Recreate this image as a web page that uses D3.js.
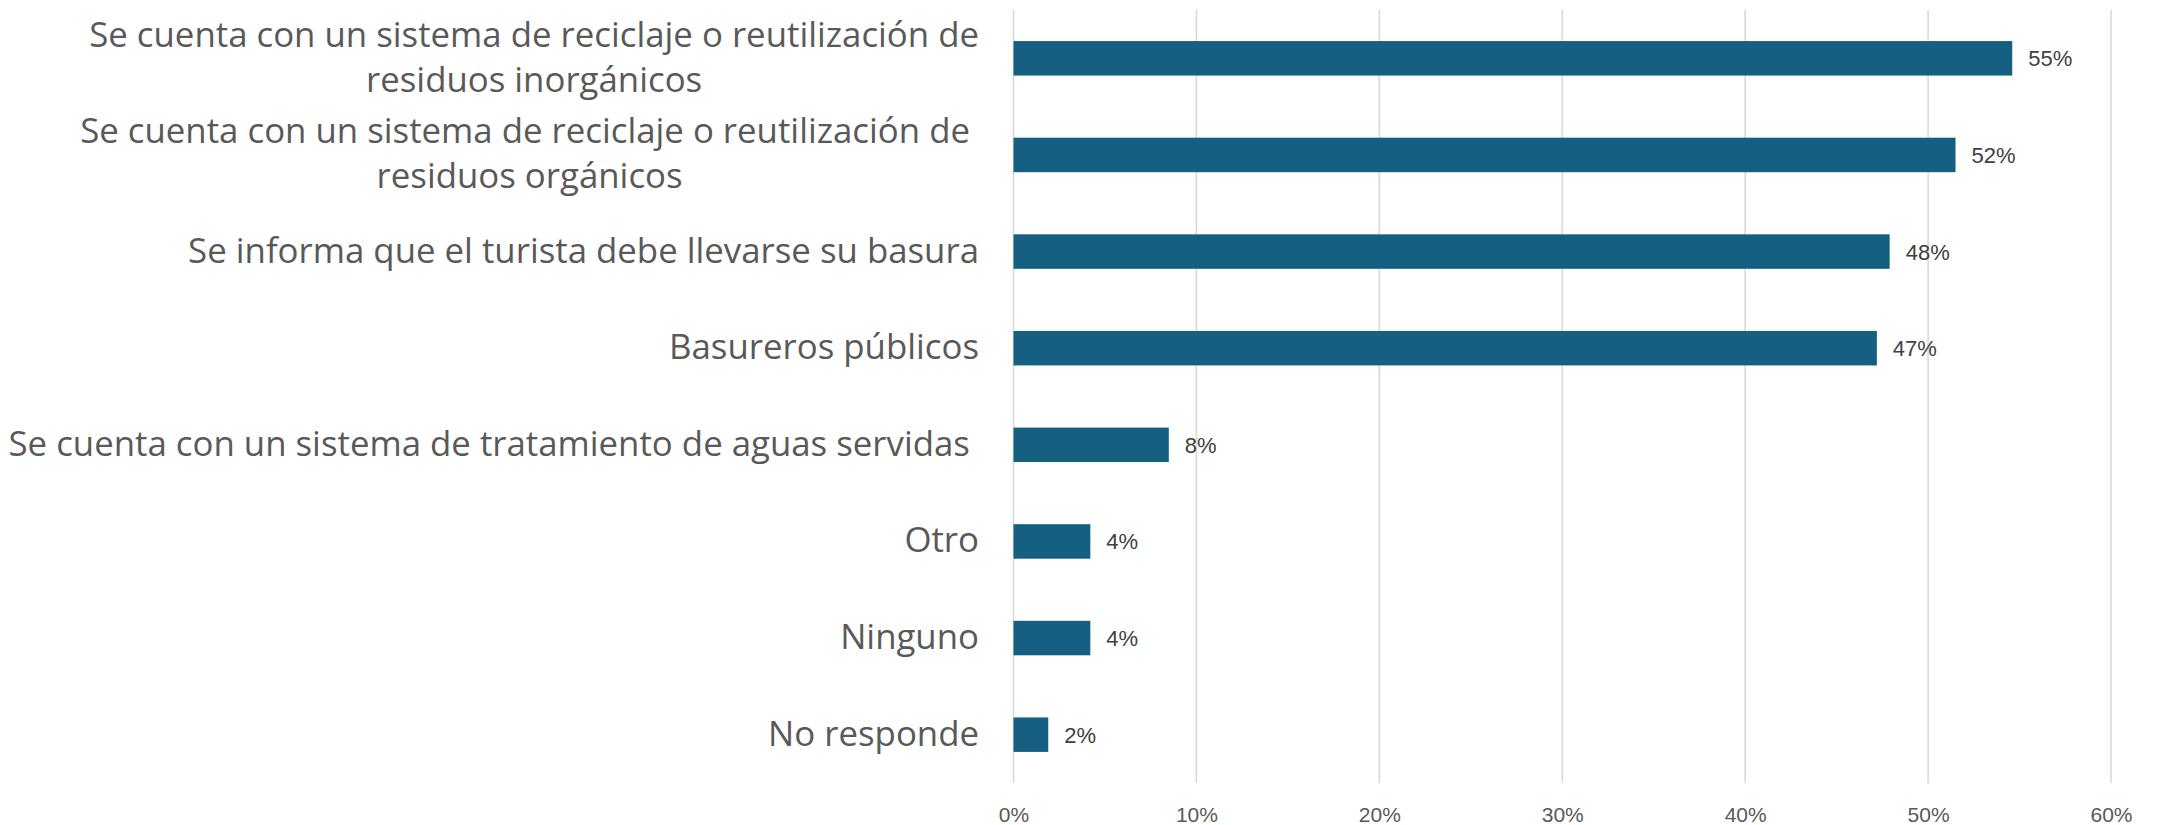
<!DOCTYPE html>
<html>
<head>
<meta charset="utf-8">
<script src="https://cdn.jsdelivr.net/npm/d3@7"></script>
<style>
  body { margin: 0; background: #fff; }
  svg text { white-space: pre; }
</style>
</head>
<body>
<div id="chart"></div>
<script>
// categories, top to bottom ("|" = line break in the label)
const categories = [
  "Se cuenta con un sistema de reciclaje o reutilización de|residuos inorgánicos",
  "Se cuenta con un sistema de reciclaje o reutilización de |residuos orgánicos",
  "Se informa que el turista debe llevarse su basura",
  "Basureros públicos",
  "Se cuenta con un sistema de tratamiento de aguas servidas ",
  "Otro",
  "Ninguno",
  "No responde"
]
const values = [0.546, 0.515, 0.479, 0.472, 0.0849, 0.042, 0.042, 0.019]
const ticks = [0, 0.1, 0.2, 0.3, 0.4, 0.5, 0.6]

const width = 2159,
  height = 825,
  margin = {top: 10, right: 48, bottom: 42, left: 1013.5}

const svg = d3.select("#chart")
  .append("svg")
  .attr("width", width)
  .attr("height", height)

const x = d3.scaleLinear()
  .domain([0, 0.6])
  .range([margin.left, width - margin.right])

const y = d3.scaleBand()
  .domain(categories)
  .range([margin.top, height - margin.bottom])
  .paddingInner(0.643)
  .paddingOuter(0.3215)

const pct = d3.format(".0%")

// gridlines
svg.append("g")
  .selectAll("line")
  .data(ticks)
  .enter()
  .append("line")
  .attr("x1", d => x(d))
  .attr("x2", d => x(d))
  .attr("y1", margin.top)
  .attr("y2", height - margin.bottom)
  .attr("stroke", "#d9d9d9")
  .attr("stroke-width", 1.6)

// x axis tick labels
const xAxis = d3.axisBottom(x)
  .tickValues(ticks)
  .tickFormat(pct)
  .tickSize(0)
  .tickPadding(0)

const axisG = svg.append("g")
  .attr("transform", "translate(0," + (height - margin.bottom) + ")")
  .call(xAxis)
axisG.select(".domain").remove()
axisG.selectAll("text")
  .attr("y", 0)
  .attr("dy", 39)
  .attr("fill", "#595959")
  .style("font-family", "'Liberation Sans', Arial, sans-serif")
  .style("font-size", "21px")

// bars
svg.append("g")
  .selectAll("rect")
  .data(values)
  .enter()
  .append("rect")
  .attr("x", x(0))
  .attr("y", (d, i) => y(categories[i]))
  .attr("width", d => x(d) - x(0))
  .attr("height", y.bandwidth())
  .attr("fill", "#156082")

// value labels
svg.append("g")
  .selectAll("text")
  .data(values)
  .enter()
  .append("text")
  .attr("x", d => x(d) + 16)
  .attr("y", (d, i) => y(categories[i]) + y.bandwidth() / 2 + 8)
  .attr("fill", "#404040")
  .style("font-family", "'Liberation Sans', Arial, sans-serif")
  .style("font-size", "22px")
  .text(d => pct(d))

// category labels, right aligned block, lines centred within the block
const labelRight = 979
const lineHeight = 45
const labelG = svg.append("g")
  .style("font-family", "'Open Sans', sans-serif")
  .style("font-size", "34.8px")
  .attr("fill", "#595959")

categories.forEach(function(c) {
  const lines = c.split("|")
  const cy = y(c) + y.bandwidth() / 2
  const t = labelG.append("text")
  const spans = lines.map(function(l, j) {
    return t.append("tspan")
      .attr("y", cy + 11 + (j - (lines.length - 1) / 2) * lineHeight)
      .text(l)
  })
  if (lines.length === 1) {
    t.attr("text-anchor", "end")
    spans[0].attr("x", labelRight)
  } else {
    const w = d3.max(spans, s => s.node().getComputedTextLength())
    t.attr("text-anchor", "middle")
    spans.forEach(s => s.attr("x", labelRight - w / 2))
  }
})
</script>
</body>
</html>
